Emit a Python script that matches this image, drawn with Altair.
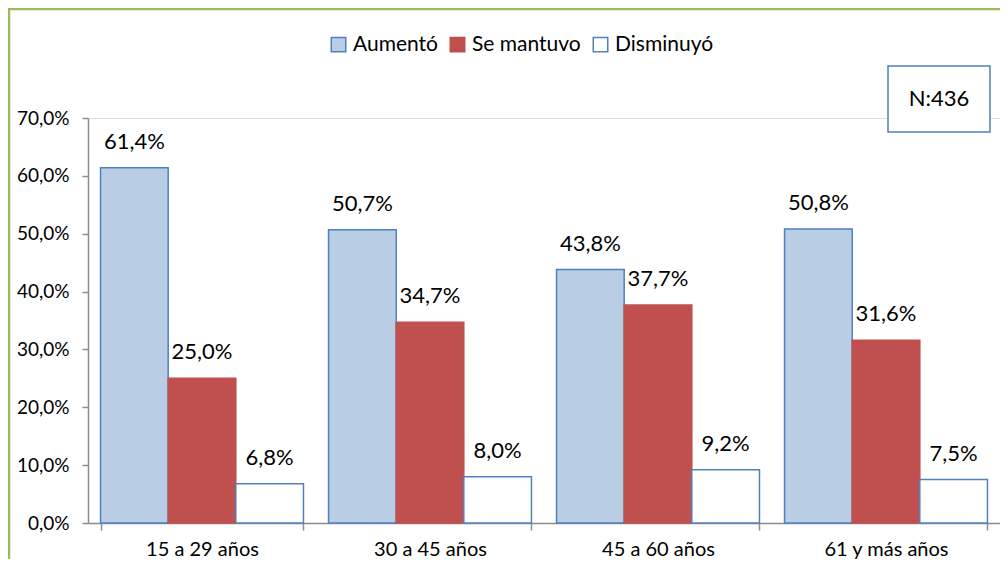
import altair as alt
import pandas as pd

categories = ["15 a 29 años", "30 a 45 años", "45 a 60 años", "61 y más años"]
series = ["Aumentó", "Se mantuvo", "Disminuyó"]
aumento = [0.614, 0.507, 0.438, 0.508]
mantuvo = [0.250, 0.347, 0.377, 0.316]
disminuyo = [0.068, 0.080, 0.092, 0.075]
y_ticks = [0.0, 0.1, 0.2, 0.3, 0.4, 0.5, 0.6, 0.7]
n_label = "N:436"

rows = []
for i, c in enumerate(categories):
    for s, vals in zip(series, [aumento, mantuvo, disminuyo]):
        rows.append({"cat": c, "serie": s, "val": vals[i]})
df = pd.DataFrame(rows)

FONT = "Lato"
fills = ["#B9CDE5", "#C0504D", "#FFFFFF"]
strokes = ["#4F81BD", "#C0504D", "#4F81BD"]

base = alt.Chart(df)

x_enc = alt.X("cat:N", sort=categories, title=None,
              scale=alt.Scale(paddingInner=0.11, paddingOuter=0.055),
              axis=alt.Axis(labelAngle=0, labelFontSize=20, labelColor="#000000",
                            labelFont=FONT, domainColor="#8C8C8C", tickColor="#8C8C8C",
                            tickBand="extent", tickSize=7, labelPadding=9,
                            domainWidth=1.5, tickWidth=1.5))
y_enc = alt.Y("val:Q", title=None,
              scale=alt.Scale(domain=[0, 0.7], nice=False),
              axis=alt.Axis(values=y_ticks, grid=False, labelFontSize=19,
                            labelColor="#000000", labelFont=FONT,
                            labelExpr="replace(format(datum.value, '.1%'), '.', ',')",
                            domainColor="#8C8C8C", tickColor="#8C8C8C", tickSize=6,
                            labelPadding=13, domainWidth=1.5, tickWidth=1.5))

leg = alt.Legend(title=None, orient="none", direction="horizontal",
                 legendX=240, legendY=-84, symbolType="square",
                 symbolSize=210, symbolStrokeWidth=1.5,
                 labelFontSize=21, labelFont=FONT, labelColor="#000000",
                 columnPadding=9, labelOffset=4)

bars = base.mark_bar(strokeWidth=1.5).encode(
    x=x_enc,
    y=y_enc,
    xOffset=alt.XOffset("serie:N", sort=series),
    fill=alt.Fill("serie:N", sort=series,
                  scale=alt.Scale(domain=series, range=fills), legend=leg),
    stroke=alt.Stroke("serie:N", sort=series,
                      scale=alt.Scale(domain=series, range=strokes), legend=leg),
)

labels = base.transform_calculate(
    lab="replace(format(datum.val, '.1%'), '.', ',')"
).mark_text(baseline="bottom", dy=-14, fontSize=22, font=FONT, color="#000000").encode(
    x=alt.X("cat:N", sort=categories),
    xOffset=alt.XOffset("serie:N", sort=series),
    y="val:Q",
    text="lab:N",
)

one = alt.Chart(pd.DataFrame({"t": [n_label]}))
nbox = one.mark_rect(fill="#FFFFFF", stroke="#4F81BD", strokeWidth=1.5).encode(
    x=alt.value(800), x2=alt.value(902), y=alt.value(-52), y2=alt.value(14))
ntext = one.mark_text(fontSize=22, font=FONT, color="#000000").encode(
    x=alt.value(851), y=alt.value(-19), text="t:N")
border = one.mark_rect(fill=None, stroke="#9BBB59", strokeWidth=2.5).encode(
    x=alt.value(-79), x2=alt.value(930), y=alt.value(-109), y2=alt.value(60 + 405))

chart = alt.layer(border, bars, labels, nbox, ntext).properties(
    width=912, height=405,
    autosize=alt.AutoSizeParams(type="none"),
    padding={"left": 80, "top": 110, "right": 0, "bottom": 36},
).configure_view(stroke=None).configure(background="#FFFFFF")

chart.save("out.html", embed_options={"renderer": "svg", "actions": False})
